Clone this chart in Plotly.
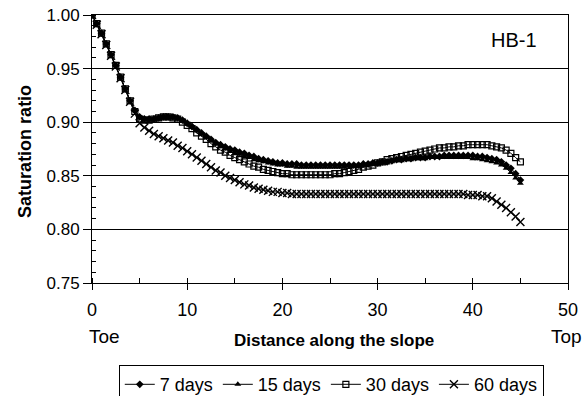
import plotly.graph_objects as go

distance = [0.0, 0.5, 1.0, 1.5, 2.0, 2.5, 3.0, 3.5, 4.0, 4.5,
            5.0, 5.5, 6.0, 6.5, 7.0, 7.5, 8.0, 8.5, 9.0, 9.5,
            10.0, 10.5, 11.0, 11.5, 12.0, 12.5, 13.0, 13.5, 14.0, 14.5,
            15.0, 15.5, 16.0, 16.5, 17.0, 17.5, 18.0, 18.5, 19.0, 19.5,
            20.0, 20.5, 21.0, 21.5, 22.0, 22.5, 23.0, 23.5, 24.0, 24.5,
            25.0, 25.5, 26.0, 26.5, 27.0, 27.5, 28.0, 28.5, 29.0, 29.5,
            30.0, 30.5, 31.0, 31.5, 32.0, 32.5, 33.0, 33.5, 34.0, 34.5,
            35.0, 35.5, 36.0, 36.5, 37.0, 37.5, 38.0, 38.5, 39.0, 39.5,
            40.0, 40.5, 41.0, 41.5, 42.0, 42.5, 43.0, 43.5, 44.0, 44.5,
            45.0]

days_7 = [1.000, 0.992, 0.983, 0.973, 0.963, 0.953, 0.942, 0.931, 0.920, 0.911,
          0.905, 0.903, 0.903, 0.903, 0.904, 0.905, 0.905, 0.905, 0.904, 0.902,
          0.899, 0.896, 0.893, 0.890, 0.887, 0.884, 0.881, 0.879, 0.877, 0.875,
          0.874, 0.872, 0.871, 0.869, 0.868, 0.866, 0.865, 0.864, 0.863, 0.862,
          0.862, 0.861, 0.861, 0.861, 0.860, 0.860, 0.860, 0.860, 0.860, 0.860,
          0.860, 0.860, 0.860, 0.860, 0.860, 0.860, 0.860, 0.861, 0.861, 0.862,
          0.862, 0.863, 0.863, 0.864, 0.865, 0.865, 0.866, 0.866, 0.867, 0.867,
          0.867, 0.868, 0.868, 0.868, 0.869, 0.869, 0.869, 0.869, 0.869, 0.869,
          0.869, 0.868, 0.868, 0.867, 0.866, 0.865, 0.863, 0.860, 0.857, 0.852,
          0.846]

days_15 = [1.000, 0.992, 0.983, 0.973, 0.963, 0.953, 0.942, 0.931, 0.920, 0.911,
           0.904, 0.902, 0.902, 0.902, 0.903, 0.904, 0.904, 0.904, 0.903, 0.901,
           0.898, 0.895, 0.892, 0.889, 0.886, 0.883, 0.880, 0.877, 0.875, 0.873,
           0.871, 0.870, 0.868, 0.867, 0.865, 0.864, 0.863, 0.862, 0.861, 0.860,
           0.860, 0.859, 0.859, 0.858, 0.858, 0.858, 0.858, 0.858, 0.858, 0.858,
           0.858, 0.858, 0.858, 0.858, 0.859, 0.859, 0.859, 0.860, 0.860, 0.861,
           0.861, 0.862, 0.862, 0.863, 0.864, 0.864, 0.865, 0.865, 0.866, 0.866,
           0.866, 0.867, 0.867, 0.867, 0.867, 0.867, 0.867, 0.867, 0.867, 0.867,
           0.866, 0.866, 0.865, 0.864, 0.863, 0.862, 0.860, 0.857, 0.853, 0.848,
           0.843]

days_30 = [1.000, 0.992, 0.983, 0.973, 0.963, 0.953, 0.942, 0.931, 0.920, 0.910,
           0.903, 0.902, 0.902, 0.903, 0.904, 0.905, 0.905, 0.904, 0.903, 0.900,
           0.897, 0.894, 0.890, 0.887, 0.884, 0.880, 0.877, 0.874, 0.872, 0.869,
           0.867, 0.865, 0.863, 0.861, 0.859, 0.858, 0.856, 0.855, 0.854, 0.853,
           0.852, 0.852, 0.851, 0.851, 0.851, 0.851, 0.851, 0.851, 0.851, 0.851,
           0.851, 0.852, 0.852, 0.853, 0.854, 0.855, 0.856, 0.858, 0.859, 0.860,
           0.862, 0.863, 0.865, 0.866, 0.867, 0.868, 0.869, 0.870, 0.871, 0.872,
           0.873, 0.874, 0.875, 0.876, 0.876, 0.877, 0.877, 0.878, 0.878, 0.879,
           0.879, 0.879, 0.879, 0.879, 0.878, 0.877, 0.876, 0.874, 0.871, 0.867,
           0.863]

days_60 = [1.000, 0.991, 0.982, 0.972, 0.962, 0.952, 0.941, 0.930, 0.919, 0.908,
           0.899, 0.895, 0.892, 0.889, 0.887, 0.885, 0.883, 0.881, 0.878, 0.876,
           0.873, 0.870, 0.867, 0.864, 0.861, 0.858, 0.855, 0.853, 0.850, 0.848,
           0.846, 0.844, 0.842, 0.841, 0.839, 0.838, 0.837, 0.836, 0.835, 0.835,
           0.834, 0.834, 0.833, 0.833, 0.833, 0.833, 0.833, 0.833, 0.833, 0.833,
           0.833, 0.833, 0.833, 0.833, 0.833, 0.833, 0.833, 0.833, 0.833, 0.833,
           0.833, 0.833, 0.833, 0.833, 0.833, 0.833, 0.833, 0.833, 0.833, 0.833,
           0.833, 0.833, 0.833, 0.833, 0.833, 0.833, 0.833, 0.833, 0.833, 0.832,
           0.832, 0.832, 0.831, 0.831, 0.829, 0.826, 0.823, 0.820, 0.816, 0.812,
           0.807]

series_names = ["7 days", "15 days", "30 days", "60 days"]
y_ticks = [0.75, 0.80, 0.85, 0.90, 0.95, 1.00]
x_ticks = [0, 10, 20, 30, 40, 50]

FONT = "Liberation Sans, Arial, sans-serif"

styles = [
    dict(symbol="diamond", size=6, line=dict(width=0)),
    dict(symbol="triangle-up", size=6, line=dict(width=0)),
    dict(symbol="square-open", size=6, line=dict(width=1.2, color="black")),
    dict(symbol="x-thin-open", size=8, line=dict(width=1.4, color="black")),
]

fig = go.Figure()
for name, vals, st in zip(series_names, [days_7, days_15, days_30, days_60], styles):
    fig.add_trace(go.Scatter(
        x=distance, y=vals, name=name, mode="lines+markers",
        line=dict(color="black", width=1),
        marker=dict(color="black", **st),
    ))

def label(text, x, y, size, angle=0):
    return dict(text=text, x=x, y=y, xref="paper", yref="paper",
                xanchor="center", yanchor="middle", showarrow=False,
                textangle=angle, font=dict(size=size, family=FONT))

fig.update_layout(
    width=588, height=396,
    margin=dict(l=92, r=20, t=15, b=113, autoexpand=False),
    paper_bgcolor="white", plot_bgcolor="white",
    font=dict(family=FONT, color="black"),
    showlegend=True,
    legend=dict(
        orientation="h", xref="container", yref="container",
        x=0.202, y=0.078, xanchor="left", yanchor="top",
        font=dict(size=18, family=FONT), bordercolor="black", borderwidth=1,
        bgcolor="white", itemwidth=30, tracegroupgap=0,
    ),
    annotations=[
        label("HB-1", 0.887, 0.907, 20),
        label("Toe", 0.027, -0.201, 19),
        label("Top", 0.996, -0.201, 19),
        label("<b>Distance along the slope</b>", 0.508, -0.216, 17),
        label("<b>Saturation ratio</b>", -0.141, 0.4925, 18, -90),
    ],
)

fig.update_xaxes(
    range=[0, 50], tickvals=x_ticks, ticktext=[str(v) for v in x_ticks],
    showgrid=False, zeroline=False,
    showline=True, linecolor="black", linewidth=1, mirror=True,
    ticks="outside", ticklen=6, tickcolor="black",
    minor=dict(dtick=5, ticks="inside", ticklen=5, tickcolor="black"),
    tickfont=dict(size=18, family=FONT), ticklabelstandoff=4,
)
fig.update_yaxes(
    range=[0.75, 1.0], tickvals=y_ticks, ticktext=[f"{v:.2f}" for v in y_ticks],
    showgrid=True, gridcolor="black", gridwidth=1, zeroline=False,
    showline=True, linecolor="black", linewidth=1, mirror=True,
    ticks="outside", ticklen=8, tickcolor="black",
    minor=dict(dtick=0.01, ticks="inside", ticklen=4, tickcolor="black"),
    tickfont=dict(size=17, family=FONT),
)

fig.write_html("out.html")
